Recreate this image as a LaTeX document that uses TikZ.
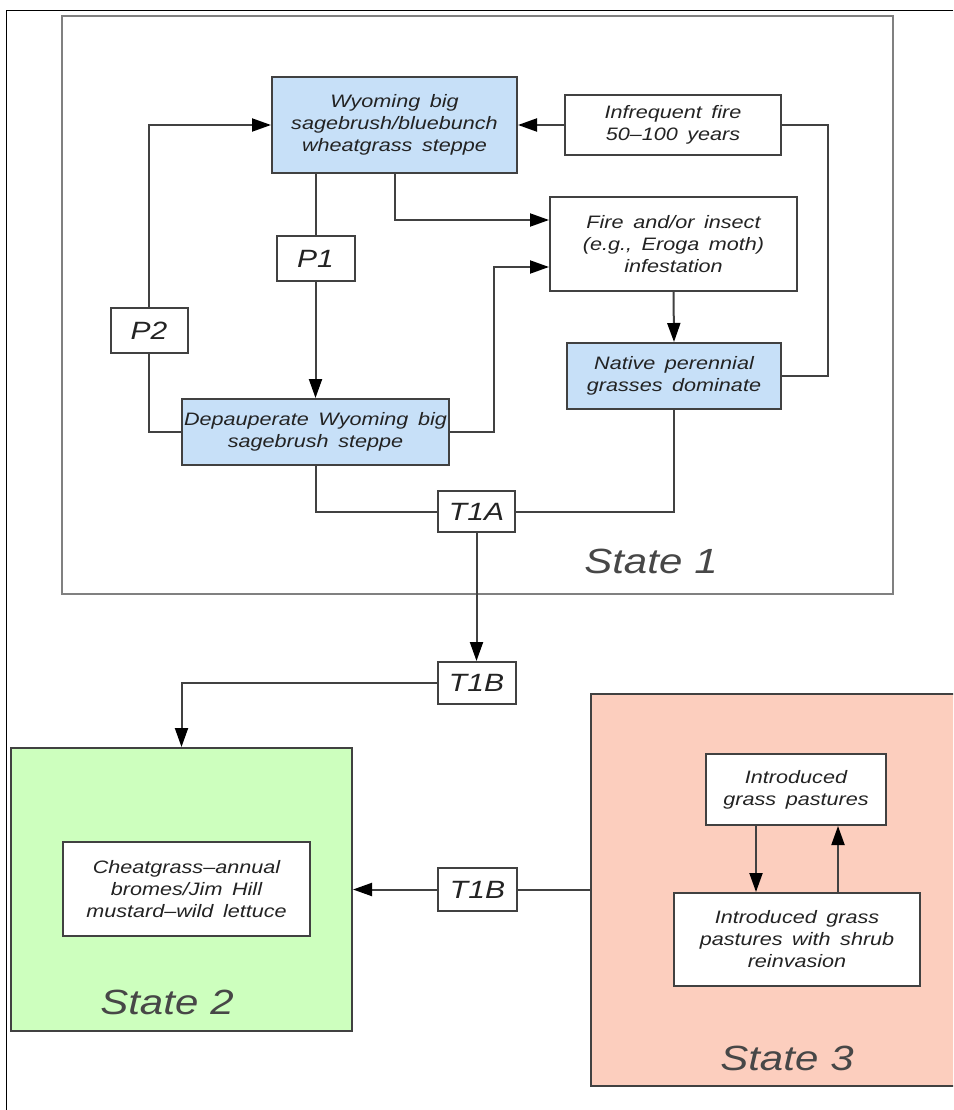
\documentclass[tikz,border=0pt]{standalone}
\usepackage{fontspec}
\newfontfamily\cadfont{Liberation Sans}[FakeStretch=1.2,WordSpace=1.6]
\usetikzlibrary{arrows.meta}
\definecolor{blu}{RGB}{199,224,248}
\definecolor{grn}{RGB}{205,255,190}
\definecolor{sal}{RGB}{252,206,190}
\definecolor{ln}{RGB}{65,65,65}
\definecolor{txt}{RGB}{35,35,35}
\begin{document}
\begin{tikzpicture}[x=1pt,y=-1pt,
  box/.style={draw=ln, line width=2pt, fill=white, inner sep=0pt, align=center,
    font=\cadfont\itshape\fontsize{18}{22}\selectfont, text=txt},
  bluebox/.style={box, fill=blu},
  tag/.style={box, font=\cadfont\itshape\fontsize{25}{28}\selectfont},
  statebox/.style={draw=ln, line width=2pt, inner sep=0pt},
  statelabel/.style={font=\cadfont\itshape\fontsize{35}{40}\selectfont, text=black!72},
  conn/.style={draw=ln, line width=2pt},
  arr/.style={conn, -{Triangle[length=19pt,width=13pt,color=black]}},
]
\useasboundingbox (0,0) rectangle (953,1110);
\clip (0,0) rectangle (953,1110);
\fill[white] (0,0) rectangle (953,1110);
% outer frame
\draw[black, line width=1.5pt] (953,10.5) -- (6.5,10.5) -- (6.5,1110);
% state boxes
\node[statebox, fill=white, draw=black!50, line width=2.5pt, minimum width=831, minimum height=578] (s1) at (477.5,305) {};
\node[statebox, fill=grn, minimum width=341, minimum height=283] (s2) at (181.5,889.5) {};
\node[statebox, fill=sal, minimum width=374, minimum height=392] (s3) at (778,889.5) {};
% state 1 nodes
\node[bluebox, minimum width=245, minimum height=96] (wy) at (394.5,125) {Wyoming big\\sagebrush/bluebunch\\wheatgrass steppe};
\node[box, minimum width=216, minimum height=60] (inf) at (673,125) {Infrequent fire\\50–100 years};
\node[box, minimum width=247, minimum height=94] (fire) at (673.5,244) {Fire and/or insect\\(e.g., Eroga moth)\\infestation};
\node[bluebox, minimum width=214, minimum height=66] (nat) at (674,376) {Native perennial\\grasses dominate};
\node[bluebox, minimum width=267, minimum height=66] (dep) at (315.5,432) {Depauperate Wyoming big\\sagebrush steppe};
\node[tag, minimum width=78, minimum height=45] (p1) at (315.5,258.5) {P1};
\node[tag, minimum width=77, minimum height=45] (p2) at (149,330.5) {P2};
\node[tag, minimum width=77, minimum height=41] (t1a) at (476.5,511.5) {T1A};
\node[tag, minimum width=78, minimum height=42] (t1b) at (476.5,683) {T1B};
\node[tag, minimum width=79, minimum height=43] (t1c) at (477.5,889.5) {T1B};
% state 2 and 3 nodes
\node[box, minimum width=247, minimum height=94] (cheat) at (186.5,889) {Cheatgrass–annual\\bromes/Jim Hill\\mustard–wild lettuce};
\node[box, minimum width=180, minimum height=71] (igp) at (796,789.5) {Introduced\\grass pastures};
\node[box, minimum width=246, minimum height=93] (igs) at (797,939.5) {Introduced grass\\pastures with shrub\\reinvasion};
% labels
\node[statelabel] (l1) at (651,561) {State\hspace{12pt}1};
\node[statelabel] (l2) at (167,1002) {State\hspace{12pt}2};
\node[statelabel] (l3) at (787,1058) {State\hspace{12pt}3};
% connectors
\draw[arr] (p2.north) |- (wy.west);
\draw[conn] (dep.west) -| (p2.south);
\draw[conn] (wy.south -| p1.north) -- (p1.north);
\draw[arr] (p1.south) -- (dep.north);
\draw[arr] (inf.west) -- (wy.east);
\draw[conn] (inf.east) -- ++(46,0) |- (nat.east);
\draw[arr] (wy.south) |- ([yshift=24pt]fire.west);
\draw[arr] (dep.east) -- ++(44,0) |- ([yshift=-23pt]fire.west);
\draw[arr] (fire.south) -- (nat.north);
\draw[conn] (dep.south) |- (t1a.west);
\draw[conn] (nat.south) |- (t1a.east);
\draw[arr] (t1a.south) -- (t1b.north);
\draw[arr] (t1b.west) -| (s2.north);
\draw[conn] (s3.west) -- (t1c.east);
\draw[arr] (t1c.west) -- (s2.east);
\draw[arr] ([xshift=-40pt]igp.south) -- ([xshift=-40pt]igp.south |- igs.north);
\draw[arr] ([xshift=42pt]igp.south |- igs.north) -- ([xshift=42pt]igp.south);
\end{tikzpicture}
\end{document}
